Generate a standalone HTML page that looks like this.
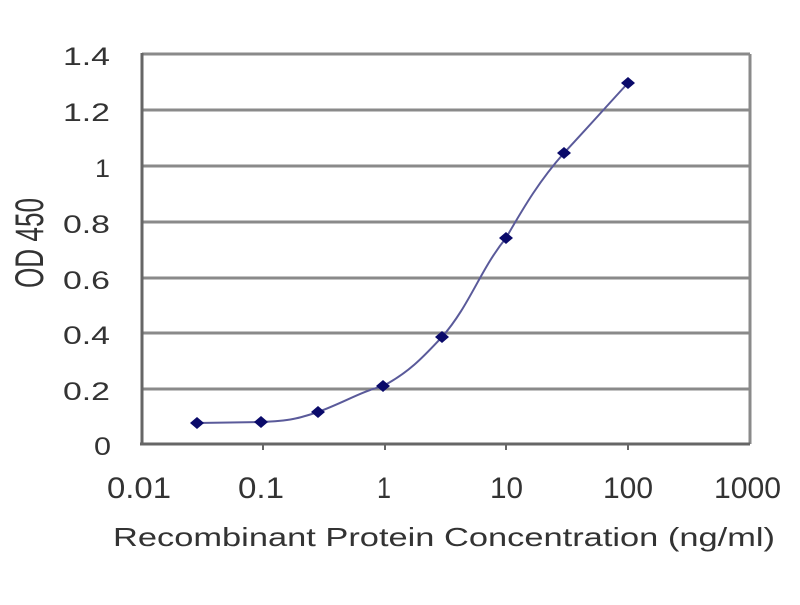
<!DOCTYPE html>
<html><head><style>body{margin:0;background:#fff}</style></head><body>
<svg width="800" height="600" xmlns="http://www.w3.org/2000/svg" font-family="Liberation Sans, sans-serif">
<rect width="800" height="600" fill="#fff"/>
<g stroke="#8a8a8a" stroke-width="3">
<line x1="142" y1="54" x2="750" y2="54"/>
<line x1="142" y1="110" x2="750" y2="110"/>
<line x1="142" y1="166" x2="750" y2="166"/>
<line x1="142" y1="222" x2="750" y2="222"/>
<line x1="142" y1="278" x2="750" y2="278"/>
<line x1="142" y1="333" x2="750" y2="333"/>
<line x1="142" y1="389" x2="750" y2="389"/>
<line x1="750" y1="54" x2="750" y2="444"/>
</g>
<g stroke="#666" stroke-width="3">
<line x1="142" y1="53" x2="142" y2="445"/>
<line x1="140" y1="444" x2="750" y2="444"/>
</g>
<g stroke="#666" stroke-width="2">
<line x1="263" y1="444" x2="263" y2="450"/><line x1="385" y1="444" x2="385" y2="450"/>
<line x1="506" y1="444" x2="506" y2="450"/><line x1="628" y1="444" x2="628" y2="450"/>
</g>
<path d="M197,423 L261,422 C290,421 300,418 318,412 C345,402 360,392 383,386 C410,372 425,355 442,337 C470,305 480,270 506,238 C525,205 540,180 564,153 C590,125 605,108 628,83" fill="none" stroke="#5a5a9a" stroke-width="2"/>
<g fill="#0a0a6a">
<path d="M197,417 l7,6 l-7,6 l-7,-6z"/>
<path d="M261,416 l7,6 l-7,6 l-7,-6z"/>
<path d="M318,406 l7,6 l-7,6 l-7,-6z"/>
<path d="M383,380 l7,6 l-7,6 l-7,-6z"/>
<path d="M442,331 l7,6 l-7,6 l-7,-6z"/>
<path d="M506,232 l7,6 l-7,6 l-7,-6z"/>
<path d="M564,147 l7,6 l-7,6 l-7,-6z"/>
<path d="M628,77 l7,6 l-7,6 l-7,-6z"/>
</g>
<g font-size="25" fill="#333" lengthAdjust="spacingAndGlyphs">
<text x="63" y="65" textLength="47" lengthAdjust="spacingAndGlyphs">1.4</text>
<text x="63" y="121" textLength="47" lengthAdjust="spacingAndGlyphs">1.2</text>
<text x="95" y="177" textLength="15" lengthAdjust="spacingAndGlyphs">1</text>
<text x="63" y="233" textLength="47" lengthAdjust="spacingAndGlyphs">0.8</text>
<text x="63" y="289" textLength="47" lengthAdjust="spacingAndGlyphs">0.6</text>
<text x="63" y="344" textLength="47" lengthAdjust="spacingAndGlyphs">0.4</text>
<text x="63" y="400" textLength="47" lengthAdjust="spacingAndGlyphs">0.2</text>
<text x="94" y="455" textLength="17" lengthAdjust="spacingAndGlyphs">0</text>
</g>
<g font-size="30" fill="#333">
<text x="107" y="498" textLength="64" lengthAdjust="spacingAndGlyphs">0.01</text>
<text x="238" y="498" textLength="46" lengthAdjust="spacingAndGlyphs">0.1</text>
<text x="377" y="498" textLength="14" lengthAdjust="spacingAndGlyphs">1</text>
<text x="490" y="498" textLength="33" lengthAdjust="spacingAndGlyphs">10</text>
<text x="603" y="498" textLength="50" lengthAdjust="spacingAndGlyphs">100</text>
<text x="714" y="498" textLength="67" lengthAdjust="spacingAndGlyphs">1000</text>
</g>
<text x="113" y="546" font-size="26" fill="#333" textLength="662" lengthAdjust="spacingAndGlyphs">Recombinant Protein Concentration (ng/ml)</text>
<text transform="translate(43,288) rotate(-90)" font-size="40" fill="#333" textLength="90" lengthAdjust="spacingAndGlyphs">OD 450</text>
</svg>
</body></html>
